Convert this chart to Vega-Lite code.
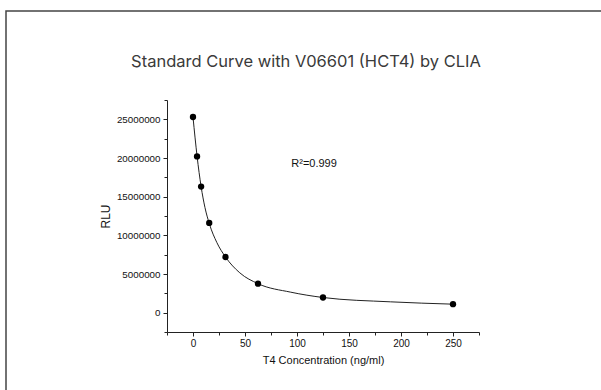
{
  "$schema": "https://vega.github.io/schema/vega-lite/v6.json",
  "autosize": "none",
  "padding": {"left": 6, "top": 11, "right": 0, "bottom": 0},
  "width": 600,
  "height": 390,
  "background": "white",
  "title": {
    "text": "Standard Curve with V06601 (HCT4) by CLIA",
    "frame": "group",
    "anchor": "middle",
    "baseline": "alphabetic",
    "offset": -72,
    "font": "Inter",
    "fontSize": 16.5,
    "fontWeight": "normal",
    "color": "#3a3a3a"
  },
  "datasets": {
    "standards": [
      {"conc": 0, "rlu": 25300000},
      {"conc": 3.9, "rlu": 20200000},
      {"conc": 7.8, "rlu": 16300000},
      {"conc": 15.6, "rlu": 11600000},
      {"conc": 31.25, "rlu": 7200000},
      {"conc": 62.5, "rlu": 3750000},
      {"conc": 125, "rlu": 1960000},
      {"conc": 250, "rlu": 1100000}
    ],
    "fit": [
      {"conc": 0, "rlu": 25300000},
      {"conc": 2, "rlu": 22600000},
      {"conc": 3.9, "rlu": 20250000},
      {"conc": 7.8, "rlu": 16300000},
      {"conc": 11.5, "rlu": 13600000},
      {"conc": 15.6, "rlu": 11550000},
      {"conc": 23, "rlu": 9050000},
      {"conc": 31.25, "rlu": 7200000},
      {"conc": 45, "rlu": 5150000},
      {"conc": 62.5, "rlu": 3750000},
      {"conc": 94, "rlu": 2650000},
      {"conc": 125, "rlu": 1960000},
      {"conc": 190, "rlu": 1400000},
      {"conc": 250, "rlu": 1100000}
    ],
    "annotation": [
      {"conc": 94.5, "rlu": 19200000, "label": "R²=0.999"}
    ]
  },
  "encoding": {
    "x": {
      "field": "conc",
      "type": "quantitative",
      "scale": {"domain": [-25, 275], "range": [161, 473], "nice": false, "zero": false},
      "axis": {
        "orient": "bottom",
        "offset": -69,
        "title": "T4 Concentration (ng/ml)",
        "values": [-25, 0, 25, 50, 75, 100, 125, 150, 175, 200, 225, 250, 275],
        "labelExpr": "datum.value % 50 === 0 ? datum.label : ''",
        "grid": false,
        "domainColor": "#222",
        "domainWidth": 1,
        "tickColor": "#222",
        "tickSize": {"condition": {"test": "datum.value % 50 !== 0", "value": 3}, "value": 4},
        "labelFont": "Liberation Sans",
        "labelFontSize": 10,
        "labelColor": "#111",
        "labelPadding": 2,
        "titleFont": "Liberation Sans",
        "titleFontSize": 11,
        "titleFontWeight": "normal",
        "titleColor": "#111",
        "titlePadding": 6
      }
    },
    "y": {
      "field": "rlu",
      "type": "quantitative",
      "scale": {"domain": [-2500000, 27500000], "range": [321, 89], "nice": false, "zero": false},
      "axis": {
        "orient": "left",
        "offset": -161,
        "title": "RLU",
        "format": "d",
        "values": [-2500000, 0, 2500000, 5000000, 7500000, 10000000, 12500000, 15000000, 17500000, 20000000, 22500000, 25000000, 27500000],
        "labelExpr": "datum.value % 5000000 === 0 ? datum.label : ''",
        "grid": false,
        "domainColor": "#222",
        "domainWidth": 1,
        "tickColor": "#222",
        "tickSize": {"condition": {"test": "datum.value % 5000000 !== 0", "value": 3}, "value": 4},
        "labelFont": "Liberation Sans",
        "labelFontSize": 9.8,
        "labelColor": "#111",
        "labelPadding": 3,
        "titleFont": "Liberation Sans",
        "titleFontSize": 12,
        "titleFontWeight": "normal",
        "titleColor": "#111",
        "titlePadding": 4
      }
    }
  },
  "layer": [
    {
      "data": {"name": "fit"},
      "mark": {"type": "line", "interpolate": "monotone", "color": "#222", "strokeWidth": 1}
    },
    {
      "data": {"name": "standards"},
      "mark": {"type": "circle", "size": 40, "opacity": 1, "color": "#000"}
    },
    {
      "data": {"name": "annotation"},
      "mark": {"type": "text", "align": "left", "baseline": "middle", "font": "Liberation Sans", "fontSize": 11, "color": "#111"},
      "encoding": {
        "text": {"field": "label", "type": "nominal"}
      }
    }
  ],
  "config": {
    "view": {"stroke": "#444", "strokeWidth": 1.5}
  }
}
